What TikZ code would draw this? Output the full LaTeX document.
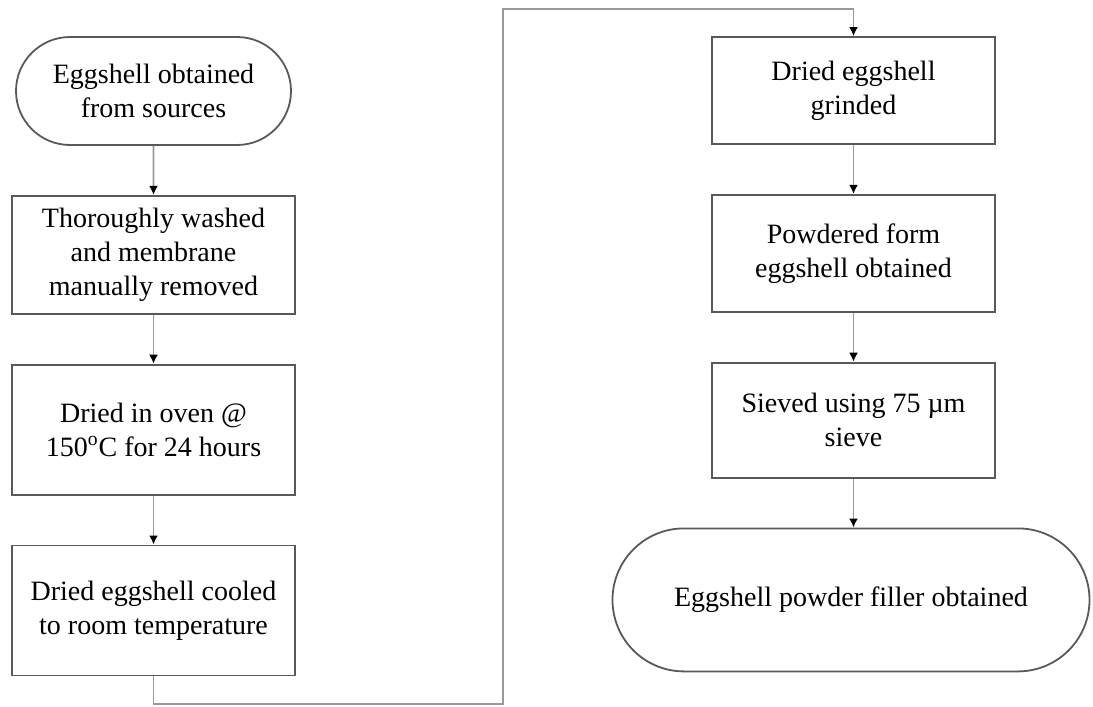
\documentclass[tikz,border=0pt]{standalone}
\usepackage{fontspec}
\setmainfont{Liberation Serif}
\usepackage{tikz}
\usetikzlibrary{positioning,shapes.misc,arrows.meta}

\tikzset{
	procbox/.style = {draw=black!65, line width=0.9pt, rectangle, align=center, minimum width=141.5pt, inner sep=2pt},
	endbox/.style  = {draw=black!65, line width=0.9pt, rounded rectangle, align=center, inner sep=2pt},
	link/.style    = {draw=black!40, line width=0.9pt, -{Latex[length=4.5pt,width=4.5pt,color=black]}},
}

\begin{document}
\begin{tikzpicture}[node distance=24.5pt, font=\fontsize{14}{17}\selectfont]
	\useasboundingbox (0,0) rectangle (546.5pt,-353.5pt);
	% left column
	\node[endbox, minimum width=141.5pt, minimum height=54pt] (source) at (76.75pt,-45.5pt) {Eggshell obtained\\from sources};
	\node[procbox, minimum height=59pt, below=of source] (wash) {Thoroughly washed\\and membrane\\manually removed};
	\node[procbox, minimum height=65pt, below=of wash]   (oven) {Dried in oven @\\150\textsuperscript{o}C for 24 hours};
	\node[procbox, minimum height=65pt, below=of oven]   (cool) {Dried eggshell cooled\\to room temperature};
	% right column
	\node[procbox, minimum height=53.5pt] (grind) at (426.75pt,-45.25pt) {Dried eggshell\\grinded};
	\node[procbox, minimum height=58.5pt, below=of grind] (powder) {Powdered form\\eggshell obtained};
	\node[procbox, minimum height=57.5pt, below=of powder] (sieve) {Sieved using 75 µm\\sieve};
	\node[endbox, minimum width=242.5pt, minimum height=71.5pt, below=of sieve, xshift=-1.25pt] (filler) {Eggshell powder filler obtained};
	% turning points of the long connector
	\coordinate (low) at (0,-352pt);
	\coordinate (turn) at (251.5pt,-4.5pt);

	\draw[link] (source) -- (wash);
	\draw[link] (wash) -- (oven);
	\draw[link] (oven) -- (cool);
	\draw[link] (cool.south) -- (cool.south |- low) -| (turn) -| (grind.north);
	\draw[link] (grind) -- (powder);
	\draw[link] (powder) -- (sieve);
	\draw[link] (sieve) -- (filler.north -| sieve.south);
\end{tikzpicture}
\end{document}
